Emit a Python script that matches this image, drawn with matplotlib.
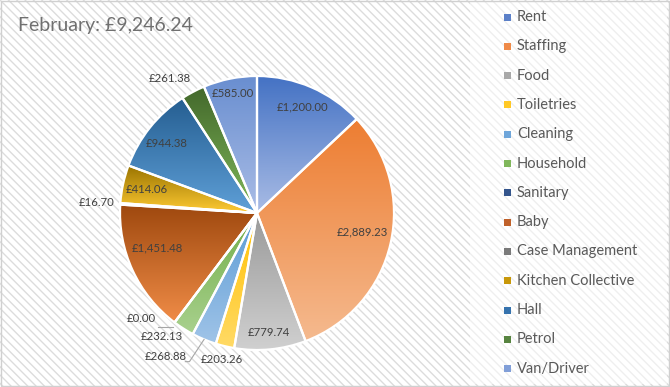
import matplotlib
matplotlib.use("Agg")

import numpy as np
import matplotlib.pyplot as plt
from matplotlib.colors import LinearSegmentedColormap
from matplotlib.patches import Rectangle

plt.rcParams['font.family'] = ['Lato', 'DejaVu Sans']

# Data
title = "February: £9,246.24"
categories = ["Rent", "Staffing", "Food", "Toiletries", "Cleaning", "Household",
              "Sanitary", "Baby", "Case Management", "Kitchen Collective",
              "Hall", "Petrol", "Van/Driver"]
amounts = [1200.00, 2889.23, 779.74, 203.26, 268.88, 232.13,
           0.00, 1451.48, 16.70, 414.06, 944.38, 261.38, 585.00]

# Styling: gradient colours (top, bottom) per slice
top_colors = ["#4472C4", "#ED7D31", "#9A9A9A", "#FFC000", "#5B9BD5", "#70AD47",
              "#264478", "#9E480E", "#636363", "#997300", "#255E91", "#43682B", "#698ED0"]
bot_colors = ["#A9BCE5", "#F5BA8F", "#D0D0D0", "#FFDA66", "#A0C4E8", "#A9D18E",
              "#4A6FB0", "#F08C47", "#A0A0A0", "#FFCB33", "#5FA0D8", "#80B85A", "#AABDE6"]
legend_colors = ["#5B80C8", "#EF8A48", "#A8A8A8", "#FFC825", "#6FA6DA", "#7FB65A",
                 "#34558C", "#C0612A", "#7A7A7A", "#C8980A", "#3673AE", "#578440", "#819FD8"]
# label radius and angle shift (deg) from slice middle
label_r = [0.84, 0.78, 0.88, 1.10, 1.24, 1.14, 1.14, 0.77, 1.17, 0.82, 0.83, 1.17, 0.89]
label_shift = [0, 2.6, 0, 0, -9.6, -5, -10.6, -5.4, 0, 0, 1, 5, 0]

W, H = 670, 387
cx, cy, R = 257, 213, 137  # pie centre / radius in pixels

fig = plt.figure(figsize=(W / 100, H / 100), dpi=100)
ax = fig.add_axes([0, 0, 1, 1])

# hatched chart background
ax.add_patch(Rectangle((0, 0), 1, 1, transform=ax.transAxes, facecolor="white",
                       edgecolor="#dcdcdc", hatch="\\\\\\\\", linewidth=0, zorder=0))
# legend area
ax.add_patch(Rectangle((470 / W, 3 / H), 197 / W, 382 / H, transform=ax.transAxes,
                       facecolor="white", edgecolor="#efefef", hatch="\\\\\\\\",
                       linewidth=0, zorder=0.5))
# chart border
ax.add_patch(Rectangle((0.5 / W, 1.5 / H), (W - 1.5) / W, (H - 2.5) / H,
                       transform=ax.transAxes, facecolor="none",
                       edgecolor="#d0d0d0", linewidth=1, zorder=5))

wedges, _ = ax.pie(amounts, startangle=90, counterclock=False, colors=legend_colors,
                   wedgeprops=dict(edgecolor="white", linewidth=1.6))

grad = np.linspace(0, 1, 256).reshape(-1, 1)
for w, v, top, bot in zip(wedges, amounts, top_colors, bot_colors):
    w.set_zorder(3)
    w.set_facecolor("none")
    if v <= 0:
        continue
    bb = w.get_path().get_extents()
    cmap = LinearSegmentedColormap.from_list("g", [bot, top])
    im = ax.imshow(grad, cmap=cmap, origin="lower", aspect="auto",
                   extent=(bb.x0, bb.x1, bb.y0, bb.y1), zorder=2, interpolation="bilinear")
    im.set_clip_path(w)

# data labels
for i, (w, v) in enumerate(zip(wedges, amounts)):
    mid = (w.theta1 + w.theta2) / 2 + label_shift[i]
    a = np.deg2rad(mid)
    lx, ly = label_r[i] * np.cos(a), label_r[i] * np.sin(a)
    ax.text(lx, ly, f"£{v:,.2f}", ha="center", va="center", fontsize=8.2,
            color="#404040", zorder=6)
    if categories[i] == "Sanitary":
        ea = np.deg2rad(w.theta1)
        ex, ey = np.cos(ea), np.sin(ea)
        ax.plot([ex - 0.01, lx + 0.12], [ey - 0.03, ey - 0.03], color="#a6a6a6", lw=0.8, zorder=6)
    if categories[i] == "Cleaning":
        ea = np.deg2rad((w.theta1 + w.theta2) / 2)
        ex, ey = np.cos(ea), np.sin(ea)
        ax.plot([ex, lx + 0.17, lx + 0.14], [ey, ly - 0.037, ly - 0.037],
                color="#a6a6a6", lw=0.8, zorder=6)

ax.set_xlim(-cx / R, (W - cx) / R)
ax.set_ylim(-(H - cy) / R, cy / R)
ax.set_aspect("auto")
ax.axis("off")

# title
fig.text(18 / W, 1 - 25 / H, title, fontsize=14, color="#707070", ha="left", va="center")

# legend
for i, (cat, col) in enumerate(zip(categories, legend_colors)):
    y = 17 + i * 29.3
    fig.add_artist(Rectangle((504 / W, 1 - (y + 3.5) / H), 7 / W, 7 / H,
                             transform=fig.transFigure, facecolor=col, edgecolor="none"))
    fig.text(517 / W, 1 - y / H, cat, fontsize=10.5, color="#595959", ha="left", va="center")

fig.savefig("out.png", dpi=100)
